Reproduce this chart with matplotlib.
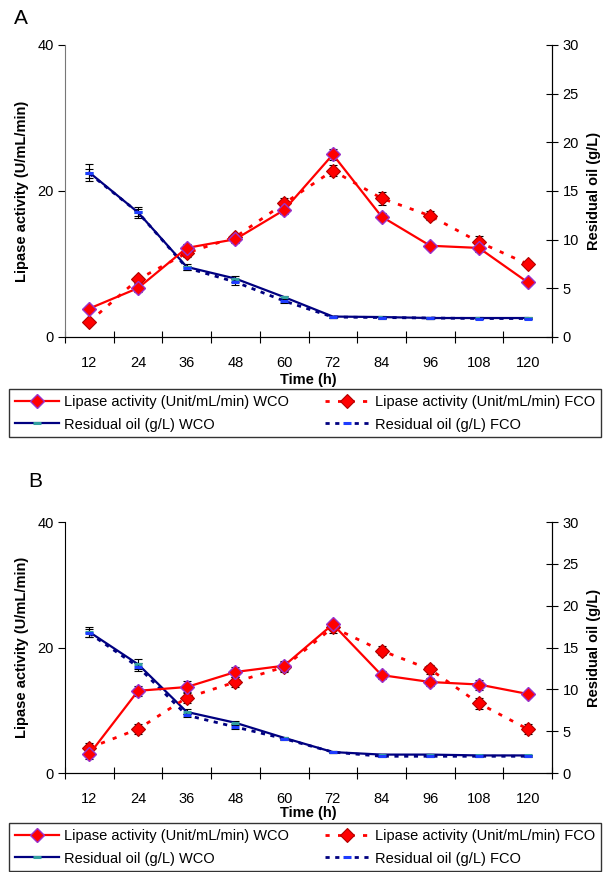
import matplotlib
matplotlib.use("Agg")
import matplotlib.pyplot as plt
import numpy as np

plt.rcParams["font.family"] = ["Liberation Sans", "DejaVu Sans"]

time_h = [12, 24, 36, 48, 60, 72, 84, 96, 108, 120]

# panel A
a_lip_wco = [3.9, 6.7, 12.2, 13.4, 17.4, 25.0, 16.5, 12.5, 12.2, 7.5]
a_lip_wco_err = [0.4, 0.5, 0.5, 0.5, 0.6, 0.8, 0.5, 0.4, 0.5, 0.4]
a_lip_fco = [2.1, 7.9, 11.5, 13.7, 18.3, 22.8, 19.0, 16.6, 13.0, 10.0]
a_lip_fco_err = [0.3, 0.5, 0.6, 0.4, 0.8, 0.8, 0.9, 0.6, 0.9, 0.4]
a_oil_wco = [16.9, 12.8, 7.2, 6.0, 4.1, 2.1, 2.05, 1.95, 1.95, 1.95]
a_oil_wco_err = [0.9, 0.6, 0.3, 0.3, 0.15, 0.1, 0.1, 0.1, 0.1, 0.1]
a_oil_fco = [16.8, 12.8, 7.1, 5.65, 3.7, 2.05, 2.0, 1.95, 1.9, 1.9]
a_oil_fco_err = [0.5, 0.4, 0.2, 0.3, 0.2, 0.1, 0.1, 0.1, 0.1, 0.1]

# panel B
b_lip_wco = [3.0, 13.1, 13.7, 16.1, 17.1, 23.7, 15.6, 14.5, 14.1, 12.6]
b_lip_wco_err = [0.8, 0.8, 1.0, 0.8, 0.8, 0.6, 0.6, 0.6, 0.8, 0.5]
b_lip_fco = [4.0, 7.0, 12.0, 14.5, 16.9, 23.2, 19.5, 16.5, 11.1, 7.0]
b_lip_fco_err = [0.8, 0.8, 0.9, 0.8, 0.8, 0.9, 0.7, 0.7, 0.9, 0.8]
b_oil_wco = [16.85, 13.0, 7.3, 6.0, 4.2, 2.5, 2.2, 2.2, 2.1, 2.1]
b_oil_wco_err = [0.6, 0.6, 0.3, 0.2, 0.15, 0.1, 0.1, 0.1, 0.1, 0.1]
b_oil_fco = [16.7, 12.7, 6.9, 5.5, 4.1, 2.5, 2.0, 2.0, 2.0, 2.0]
b_oil_fco_err = [0.5, 0.5, 0.2, 0.2, 0.1, 0.1, 0.1, 0.1, 0.1, 0.1]

labels = ["Lipase activity (Unit/mL/min) WCO", "Lipase activity (Unit/mL/min) FCO",
          "Residual oil (g/L) WCO", "Residual oil (g/L) FCO"]

W, H = 603, 872
fig = plt.figure(figsize=(W / 100, H / 100), dpi=100)


def fbox(x0, y0, x1, y1):
    # pixel box (top-left origin) -> figure fraction rect
    return [x0 / W, 1 - y1 / H, (x1 - x0) / W, (y1 - y0) / H]


def draw_panel(rect, lip_w, lip_w_e, lip_f, lip_f_e, oil_w, oil_w_e, oil_f, oil_f_e,
               xlab_y, left_col):
    ax = fig.add_axes(rect)
    ax2 = ax.twinx()
    x = np.array(time_h)

    ebk = dict(fmt="none", ecolor="black", elinewidth=0.8, capsize=3, capthick=0.8, zorder=4)
    ax2.errorbar(x, oil_w, yerr=oil_w_e, **ebk)
    ax2.errorbar(x, oil_f, yerr=oil_f_e, **ebk)
    h_ow, = ax2.plot(x, oil_w, color="#000080", lw=1.6, marker="_", ms=6, mew=2.2,
                     mec="#33A0A0", zorder=5)
    h_of, = ax2.plot(x, oil_f, color="#000080", lw=2.0, ls=(0, (1.5, 2)), marker="_", ms=6,
                     mew=2.2, mec="#1E3CFF", zorder=5)

    ax.errorbar(x, lip_w, yerr=lip_w_e, **ebk)
    ax.errorbar(x, lip_f, yerr=lip_f_e, **ebk)
    h_lf, = ax.plot(x, lip_f, color="red", lw=2.0, ls=(0, (1.5, 3)), marker="D", ms=7,
                    mfc="red", mec="#B00000", mew=0.8, zorder=5)
    h_lw, = ax.plot(x, lip_w, color="red", lw=1.6, marker="D", ms=7,
                    mfc="red", mec="#9933CC", mew=1.0, zorder=6)
    ax.set_zorder(ax2.get_zorder() + 1)
    ax.patch.set_visible(False)

    ax.set_xlim(6, 126)
    ax.set_ylim(0, 40)
    ax2.set_ylim(0, 30)
    ax.set_xticks(np.arange(6, 127, 12))
    ax.set_xticklabels([])
    ax.set_xticks(time_h, minor=True)
    ax.set_xticklabels([str(t) for t in time_h], minor=True, fontsize=10.5)
    ax.tick_params(axis="x", which="major", direction="inout", length=9, width=0.8)
    ax.tick_params(axis="x", which="minor", length=0, pad=14)
    ax.set_yticks([0, 20, 40])
    ax.tick_params(axis="y", direction="out", length=5, width=0.8, labelsize=10.5, pad=3)
    ax2.set_yticks(np.arange(0, 31, 5))
    ax2.tick_params(axis="y", direction="inout", length=9, width=0.8, labelsize=10.5, pad=3)

    for a in (ax, ax2):
        a.spines["top"].set_visible(False)
    ax.spines["left"].set_color(left_col)
    ax2.spines["left"].set_visible(False)

    ax.set_xlabel("Time (h)", fontsize=10.5, fontweight="bold")
    ax.xaxis.set_label_coords(0.5, xlab_y)
    ax.set_ylabel("Lipase activity (U/mL/min)", fontsize=10.5, fontweight="bold")
    ax.yaxis.set_label_coords(-0.074, 0.5)
    ax2.set_ylabel("Residual oil (g/L)", fontsize=10.5, fontweight="bold", rotation=90)
    ax2.yaxis.set_label_coords(1.072, 0.5)
    return [h_lw, h_ow, h_lf, h_of]


def add_legend(handles, rect):
    leg = fig.legend(handles, [labels[0], labels[2], labels[1], labels[3]],
                     loc="upper left", bbox_to_anchor=rect, mode="expand", ncol=2,
                     fontsize=10.5, frameon=True, fancybox=False, edgecolor="black",
                     handlelength=3.0, handletextpad=0.4, labelspacing=0.6,
                     borderaxespad=0, borderpad=0.4, columnspacing=1.0)
    leg.get_frame().set_linewidth(1.0)


hA = draw_panel(fbox(65, 45, 552, 337), a_lip_wco, a_lip_wco_err, a_lip_fco, a_lip_fco_err,
                a_oil_wco, a_oil_wco_err, a_oil_fco, a_oil_fco_err, -0.123, "#777777")
add_legend(hA, fbox(9, 389, 601, 439))

hB = draw_panel(fbox(65, 522, 552, 773), b_lip_wco, b_lip_wco_err, b_lip_fco, b_lip_fco_err,
                b_oil_wco, b_oil_wco_err, b_oil_fco, b_oil_fco_err, -0.131, "black")
add_legend(hB, fbox(9, 823, 601, 873))

fig.text(21 / W, 1 - 18 / H, "A", fontsize=15, ha="center", va="center")
fig.text(35 / W, 1 - 481 / H, "B", fontsize=15, ha="center", va="center")

fig.savefig("out.png", dpi=100)
